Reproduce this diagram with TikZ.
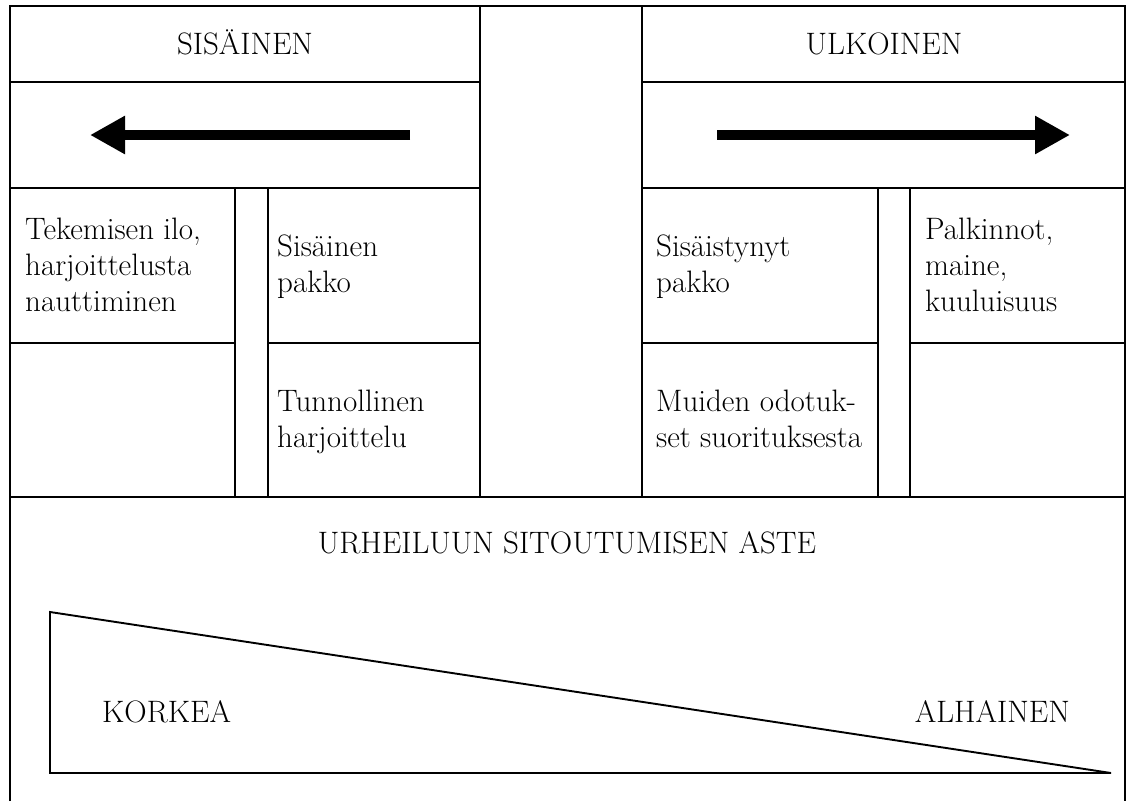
\documentclass[tikz,border=0pt]{standalone}
\usepackage{fontspec}
\usetikzlibrary{arrows.meta}
\begin{document}
\begin{tikzpicture}[x=1pt,y=-1pt]
\tikzstyle{every node}=[inner sep=0pt, align=left, font=\fontsize{31}{36}\selectfont]
\tikzstyle{grid}=[line width=2.8pt]
\tikzstyle{bigarrow}=[line width=10pt, -{Triangle[length=35pt,width=36pt]}]
\useasboundingbox (0,0) rectangle (1127,801);
% frame and columns
\draw[grid] (10,801) -- (10,6) -- (1125,6) -- (1125,801);
\draw[grid] (480,6) -- (480,497);
\draw[grid] (642,6) -- (642,497);
\draw[grid] (10,82) -- (480,82);
\draw[grid] (642,82) -- (1125,82);
\draw[grid] (10,188) -- (480,188);
\draw[grid] (642,188) -- (1125,188);
\draw[grid] (10,497) -- (1125,497);
% inner cells
\draw[grid] (235,188) -- (235,497);
\draw[grid] (268,188) -- (268,497);
\draw[grid] (878,188) -- (878,497);
\draw[grid] (910,188) -- (910,497);
\draw[grid] (10,343) -- (235,343);
\draw[grid] (268,343) -- (480,343);
\draw[grid] (642,343) -- (878,343);
\draw[grid] (910,343) -- (1125,343);
% arrows
\draw[bigarrow] (410,135) -- (90,135);
\draw[bigarrow] (717,135) -- (1070,135);
% wedge
\draw[line width=1.9pt] (50,612) -- (1111,773) -- (50,773) -- cycle;
% texts (base = last line)
\draw (245,54) node (sis) [anchor=base] {SISÄINEN};
\draw (884,54) node (ulk) [anchor=base] {ULKOINEN};
\draw (25,311) node (ilo) [anchor=base west] {Tekemisen ilo,\\harjoittelusta\\nauttiminen};
\draw (277,292) node (sispakko) [anchor=base west] {Sisäinen\\pakko};
\draw (277,447) node (tunn) [anchor=base west] {Tunnollinen\\harjoittelu};
\draw (656,292) node (sisist) [anchor=base west] {Sisäistynyt\\pakko};
\draw (656,447) node (muiden) [anchor=base west] {Muiden odotuk-\\set suorituksesta};
\draw (925,311) node (palk) [anchor=base west] {Palkinnot,\\maine,\\kuuluisuus};
\draw (567,553) node (aste) [anchor=base] {URHEILUUN SITOUTUMISEN ASTE};
\draw (102,722) node (korkea) [anchor=base west] {KORKEA};
\draw (1070,722) node (alhainen) [anchor=base east] {ALHAINEN};
\end{tikzpicture}
\end{document}
